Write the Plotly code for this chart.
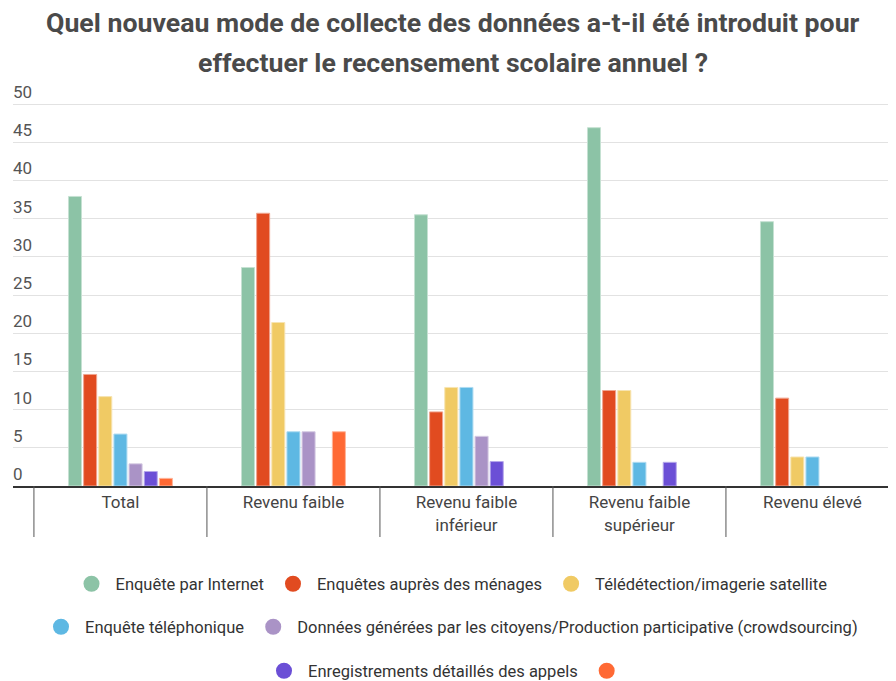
import plotly.graph_objects as go

categories = ["Total", "Revenu faible", "Revenu faible<br>inférieur",
              "Revenu faible<br>supérieur", "Revenu élevé"]

series_names = [
    "Enquête par Internet",
    "Enquêtes auprès des ménages",
    "Télédétection/imagerie satellite",
    "Enquête téléphonique",
    "Données générées par les citoyens/Production participative (crowdsourcing)",
    "Enregistrements détaillés des appels",
    " ",
]

internet = [37.9, 28.6, 35.5, 46.9, 34.6]
menages = [14.6, 35.7, 9.7, 12.5, 11.5]
teledetection = [11.7, 21.4, 12.9, 12.5, 3.8]
telephone = [6.8, 7.1, 12.9, 3.1, 3.8]
crowdsourcing = [2.9, 7.1, 6.5, None, None]
appels = [1.9, None, 3.2, 3.1, None]
autre = [1.0, 7.1, None, None, None]

series_values = [internet, menages, teledetection, telephone, crowdsourcing, appels, autre]

colors = ["#8cc3a6", "#e14b20", "#f0ca64", "#5eb8e3", "#aa93c6", "#6b4fd6", "#ff6934"]
outline = ["#c5e1d2", "#f0a58f", "#f7e4b1", "#aedbf1", "#d4c9e2", "#b5a7ea", "#ffb499"]

legend_rows = ["legend", "legend", "legend", "legend2", "legend2", "legend3", "legend3"]

y_ticks = [0, 5, 10, 15, 20, 25, 30, 35, 40, 45, 50]

fig = go.Figure()

for name, vals, c, oc in zip(series_names, series_values, colors, outline):
    fig.add_trace(go.Bar(
        x=categories, y=vals, name=name,
        marker=dict(color=c, line=dict(color=oc, width=1)),
        showlegend=False, hoverinfo="x+y",
    ))

for name, c, lg in zip(series_names, colors, legend_rows):
    fig.add_trace(go.Scatter(
        x=[None], y=[None], mode="markers", name=name,
        marker=dict(color=c, size=16, symbol="circle"),
        legend=lg, showlegend=True,
    ))

# The page body adds an 8px offset; the figure is sized/positioned to compensate.
OFF = 8
W, H = 896 - OFF, 681 - OFF
left, right_edge = 13 - OFF, 896 - OFF
top, bottom = 80 - OFF, 486 - OFF
plot_h = bottom - top
plot_w = right_edge - left
unit_px = 7.64
y_max = plot_h / unit_px

def py(ref_px):
    return (bottom - (ref_px - OFF)) / plot_h

def px(ref_px):
    return ((ref_px - OFF) - left) / plot_w

shapes = []
for i in range(6):
    shapes.append(dict(type="line", xref="x", yref="paper",
                       x0=i - 0.5, x1=i - 0.5, y0=0, y1=py(537),
                       line=dict(color="#555555", width=1)))

title_font = dict(family="Roboto, sans-serif", size=26.7, color="#4a4a4a")
annotations = [
    dict(text="<b>Quel nouveau mode de collecte des données a-t-il été introduit pour</b>",
         xref="paper", yref="paper", x=px(453), y=py(23), xanchor="center",
         yanchor="middle", showarrow=False, font=title_font),
    dict(text="<b>effectuer le recensement scolaire annuel ?</b>",
         xref="paper", yref="paper", x=px(453), y=py(63), xanchor="center",
         yanchor="middle", showarrow=False, font=title_font),
]

legend_font = dict(family="Roboto, sans-serif", size=16.5, color="#333333")
leg_common = dict(orientation="h", xanchor="center", x=px(450), yanchor="middle",
                  font=legend_font, bgcolor="rgba(0,0,0,0)", itemclick=False,
                  itemwidth=38)

fig.update_layout(
    width=W, height=H,
    margin=dict(l=left, r=W - right_edge, t=top, b=H - bottom, pad=0, autoexpand=False),
    paper_bgcolor="white", plot_bgcolor="white",
    barmode="group", bargap=0.387, bargroupgap=0.14,
    font=dict(family="Roboto, sans-serif", color="#444444"),
    xaxis=dict(type="category", range=[-0.621, 4.483], showline=True,
               linecolor="#333333", linewidth=2, ticks="", showgrid=False,
               tickfont=dict(size=17, color="#444444"), fixedrange=True,
               automargin=False),
    yaxis=dict(range=[0, y_max], tickvals=y_ticks, ticklabelposition="inside top",
               ticklabelstandoff=-3,
               showgrid=True, gridcolor="#e2e2e2", gridwidth=1, zeroline=False,
               showline=False, tickfont=dict(size=17, color="#555555"),
               fixedrange=True, automargin=False),
    legend=dict(y=py(584), **leg_common),
    legend2=dict(y=py(627), **leg_common),
    legend3=dict(y=py(671), **leg_common),
    shapes=shapes,
    annotations=annotations,
)

fig.write_html("out.html")
